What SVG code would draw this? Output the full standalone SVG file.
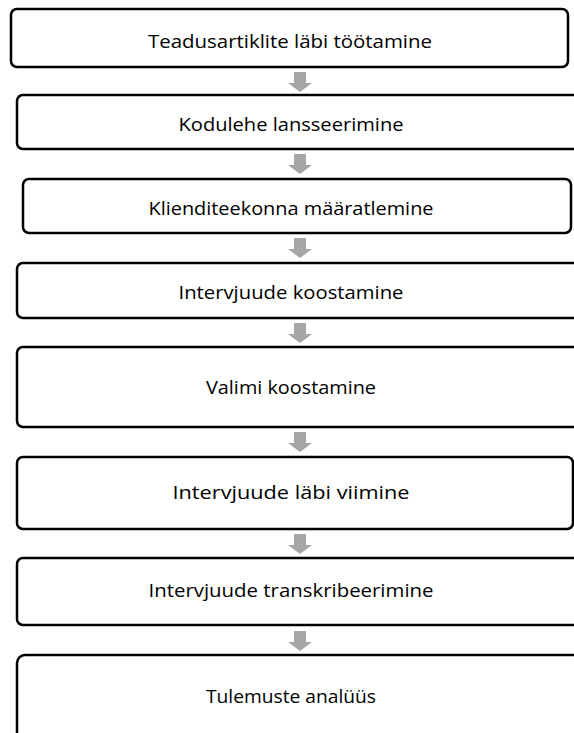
<svg xmlns="http://www.w3.org/2000/svg" width="574" height="733" viewBox="0 0 574 733">
<style>
.box{fill:#fff;stroke:#000;stroke-width:2.5}
.lbl{font-family:"Open Sans","Noto Sans","Liberation Sans",sans-serif;font-size:19px;fill:#000;text-anchor:middle;dominant-baseline:central}
.arr{fill:#a6a6a6}
</style>
<defs>
<path id="ah" d="M-6,0 H6 V11 H12 L0,20 L-12,11 H-6 Z"/>
</defs>
<rect width="574" height="733" fill="#fff"/>
<g id="connectors">
<use href="#ah" class="arr" x="300" y="72"/>
<use href="#ah" class="arr" x="300" y="154"/>
<use href="#ah" class="arr" x="300" y="238"/>
<use href="#ah" class="arr" x="300" y="323"/>
<use href="#ah" class="arr" x="300" y="432"/>
<use href="#ah" class="arr" x="300" y="534"/>
<use href="#ah" class="arr" x="300" y="631"/>
</g>
<g id="n1"><rect class="box" x="11" y="9" width="557" height="58" rx="6"/><text class="lbl" x="290" y="41" textLength="284" lengthAdjust="spacingAndGlyphs">Teadusartiklite läbi töötamine</text></g>
<g id="n2"><rect class="box" x="17" y="95" width="570" height="54" rx="6"/><text class="lbl" x="291" y="124" textLength="225" lengthAdjust="spacingAndGlyphs">Kodulehe lansseerimine</text></g>
<g id="n3"><rect class="box" x="23" y="179" width="548" height="54" rx="6"/><text class="lbl" x="291" y="208" textLength="285" lengthAdjust="spacingAndGlyphs">Klienditeekonna määratlemine</text></g>
<g id="n4"><rect class="box" x="17" y="263" width="570" height="55" rx="6"/><text class="lbl" x="291" y="292" textLength="225" lengthAdjust="spacingAndGlyphs">Intervjuude koostamine</text></g>
<g id="n5"><rect class="box" x="17" y="347" width="570" height="80" rx="6"/><text class="lbl" x="291" y="387" textLength="170" lengthAdjust="spacingAndGlyphs">Valimi koostamine</text></g>
<g id="n6"><rect class="box" x="17" y="457" width="556" height="72" rx="6"/><text class="lbl" x="291" y="492" textLength="237" lengthAdjust="spacingAndGlyphs">Intervjuude läbi viimine</text></g>
<g id="n7"><rect class="box" x="17" y="558" width="570" height="67" rx="6"/><text class="lbl" x="291" y="590" textLength="285" lengthAdjust="spacingAndGlyphs">Intervjuude transkribeerimine</text></g>
<g id="n8"><rect class="box" x="17" y="655" width="570" height="90" rx="8"/><text class="lbl" x="291" y="696" textLength="170" lengthAdjust="spacingAndGlyphs">Tulemuste analüüs</text></g>
</svg>
